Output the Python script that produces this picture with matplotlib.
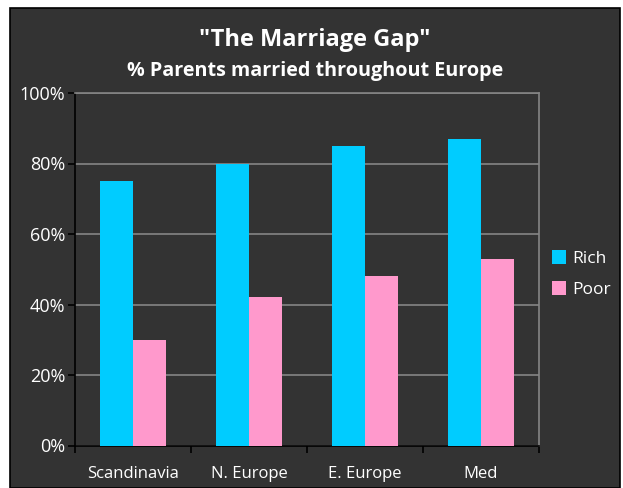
import numpy as np
import matplotlib.pyplot as plt
from matplotlib.patches import Rectangle

# Chart data
regions = ["Scandinavia", "N. Europe", "E. Europe", "Med"]
rich = [75, 80, 85, 87]
poor = [30, 42, 48, 53]
y_ticks = [0, 20, 40, 60, 80, 100]

bg = "#333333"
rich_color = "#00CCFF"
poor_color = "#FF99CC"
grid_color = "#858585"

plt.rcParams["font.family"] = ["Open Sans", "DejaVu Sans"]

W, H = 623, 488
fig = plt.figure(figsize=(W / 100, H / 100), dpi=100, facecolor="white")

# dark chart panel inside the white margin
fig.patches.append(Rectangle((10 / W, 0), (620 - 10) / W, (H - 8) / H,
                             transform=fig.transFigure, facecolor=bg,
                             edgecolor="black", linewidth=1.2, zorder=-5))

ax = fig.add_axes([75 / W, (H - 445.5) / H, (539 - 75) / W, (445.5 - 93) / H])
ax.set_facecolor(bg)

x = np.arange(len(regions))
w = 0.285
ax.bar(x - w / 2, rich, w, color=rich_color, label="Rich", zorder=3)
ax.bar(x + w / 2, poor, w, color=poor_color, label="Poor", zorder=3)

ax.set_xlim(-0.5, len(regions) - 0.5)
ax.set_ylim(0, 100)
ax.set_yticks(y_ticks)
ax.set_yticklabels([f"{t}%" for t in y_ticks])
ax.yaxis.grid(True, color=grid_color, linewidth=1.2, zorder=0)
ax.set_axisbelow(True)

# category labels between boundary ticks
ax.set_xticks(np.arange(len(regions) + 1) - 0.5)
ax.set_xticklabels([])
ax.set_xticks(x, minor=True)
ax.set_xticklabels(regions, minor=True)
ax.tick_params(axis="x", which="minor", length=0, pad=15, labelsize=12, colors="white")
ax.tick_params(axis="x", which="major", length=5, width=1.2, color="black", direction="out")
ax.tick_params(axis="y", length=5, width=1.2, color="black", labelsize=13,
               labelcolor="white", pad=2)

for side in ["left", "bottom"]:
    ax.spines[side].set_color("black")
    ax.spines[side].set_linewidth(1.2)
for side in ["top", "right"]:
    ax.spines[side].set_color(grid_color)
    ax.spines[side].set_linewidth(1.2)

fig.text(315 / W, 1 - 40 / H, '"The Marriage Gap"', ha="center", va="center",
         color="white", fontsize=17, fontweight="bold")
fig.text(315 / W, 1 - 71 / H, "% Parents married throughout Europe", ha="center",
         va="center", color="white", fontsize=14.2, fontweight="bold")

leg = fig.legend(loc="center left", bbox_to_anchor=(543 / W, 1 - 274 / H),
                 frameon=False, fontsize=12.5, labelcolor="white", borderpad=0,
                 handlelength=0.85, handleheight=0.85, handletextpad=0.35,
                 labelspacing=0.85)

fig.savefig("out.png", dpi=100, facecolor="white")
